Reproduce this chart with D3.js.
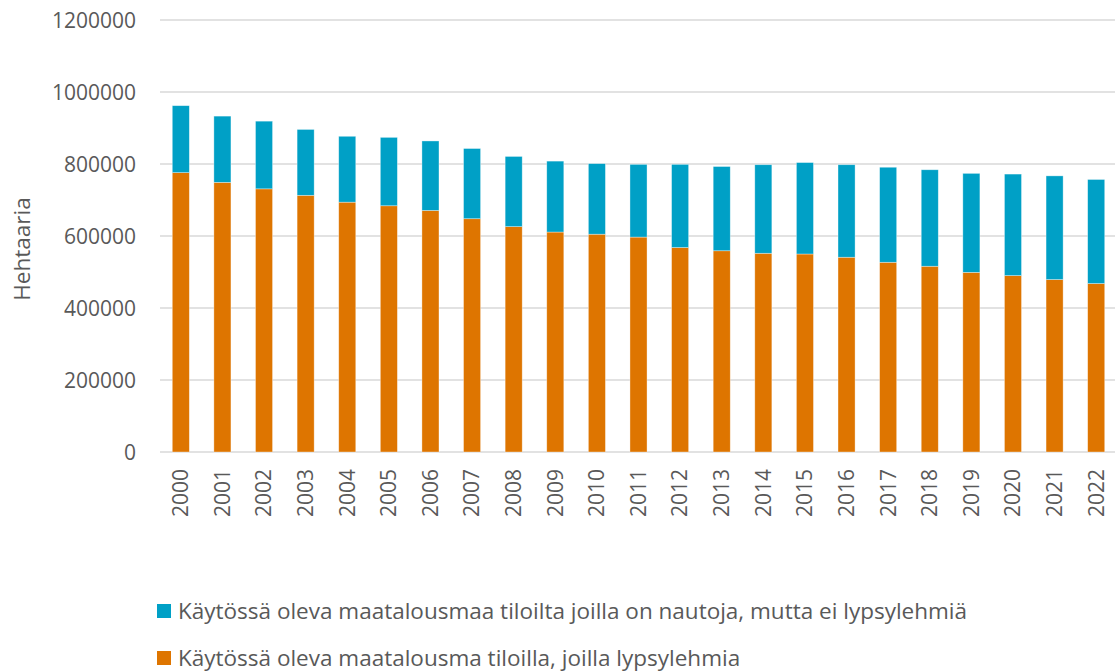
<!DOCTYPE html>
<html>
<head>
<meta charset="utf-8">
<script src="https://cdn.jsdelivr.net/npm/d3@7"></script>
<style>
  html, body { margin: 0; padding: 0; background: #fff; }
  svg text { font-family: "Open Sans", "Noto Sans", sans-serif; fill: #595959; }
</style>
</head>
<body>
<svg id="chart" width="1115" height="672"></svg>
<script>
/* Data
======================================================================= */
var years = ['2000', '2001', '2002', '2003', '2004', '2005', '2006', '2007', '2008', '2009', '2010',
             '2011', '2012', '2013', '2014', '2015', '2016', '2017', '2018', '2019', '2020', '2021', '2022'];

// Farms with dairy cows (bottom, orange)
var dairyArea = [776000, 749000, 731000, 713000, 694000, 684000, 671000, 648000, 626000, 611000, 605000,
                 597000, 568000, 559000, 552000, 550000, 541000, 527000, 516000, 499000, 490000, 479000, 468000];

// Farms with cattle but no dairy cows (top, blue)
var cattleArea = [186000, 184000, 188000, 183000, 183000, 190000, 193000, 195000, 195000, 197000, 196000,
                  202000, 231000, 234000, 246000, 254000, 257000, 264000, 268000, 275000, 282000, 288000, 289000];

var yTicks = [0, 200000, 400000, 600000, 800000, 1000000, 1200000];

var seriesNames = [
  'Käytössä oleva maatalousmaa tiloilta joilla on nautoja, mutta ei lypsylehmiä',
  'Käytössä oleva maatalousma tiloilla, joilla lypsylehmia'
];
var seriesColors = ['#00A0C6', '#DE7500'];

/* Layout
======================================================================= */
var svg = d3.select('#chart'),
    m = { top: 20, left: 160 },
    W = 1115,
    baseY = 452;

var x = d3.scaleBand()
  .domain(years)
  .range([m.left, 1117])
  .paddingInner(0.59)
  .paddingOuter(0.295);

var y = d3.scaleLinear()
  .domain([0, 1200000])
  .range([baseY, m.top]);

// Gridlines
svg.append('g')
  .selectAll('line')
  .data(yTicks)
  .enter().append('line')
    .attr('x1', m.left)
    .attr('x2', W)
    .attr('y1', function(d) { return y(d); })
    .attr('y2', function(d) { return y(d); })
    .attr('stroke', '#d9d9d9')
    .attr('stroke-width', 1.3);

// Y axis labels
var yAxis = svg.append('g')
  .attr('transform', 'translate(136,0)')
  .call(d3.axisLeft(y).tickValues(yTicks).tickSize(0).tickPadding(0).tickFormat(d3.format('d')));
yAxis.select('.domain').remove();
yAxis.selectAll('text')
  .attr('font-size', 21)
  .attr('dy', '0.35em')
  .style('font-family', '"Open Sans", sans-serif')
  .attr('fill', '#595959');

// Stacked bars
var stackData = years.map(function(yr, i) {
  return { year: yr, dairy: dairyArea[i], cattle: cattleArea[i] };
});
var stacked = d3.stack().keys(['dairy', 'cattle'])(stackData);
var colorFor = { dairy: seriesColors[1], cattle: seriesColors[0] };

svg.append('g')
  .selectAll('g')
  .data(stacked)
  .enter().append('g')
    .attr('fill', function(s) { return colorFor[s.key]; })
  .selectAll('rect')
  .data(function(s) { return s; })
  .enter().append('rect')
    .attr('x', function(d) { return x(d.data.year); })
    .attr('width', x.bandwidth())
    .attr('y', function(d) { return y(d[1]); })
    .attr('height', function(d) { return y(d[0]) - y(d[1]); })
    .attr('stroke', '#ffffff')
    .attr('stroke-opacity', 0.5)
    .attr('stroke-width', 0.7);

// X axis labels (rotated years)
var xAxis = svg.append('g')
  .attr('transform', 'translate(0,' + baseY + ')')
  .call(d3.axisBottom(x).tickSize(0).tickPadding(0));
xAxis.select('.domain').remove();
xAxis.selectAll('text')
  .attr('font-size', 21)
  .attr('transform', 'rotate(-90)')
  .attr('text-anchor', 'end')
  .attr('x', -17)
  .attr('y', 0)
  .attr('dy', '0.35em')
  .attr('fill', '#595959');

// Y axis title
svg.append('text')
  .attr('transform', 'translate(30,249) rotate(-90)')
  .attr('text-anchor', 'middle')
  .attr('font-size', 22.5)
  .text('Hehtaaria');

// Legend
var legend = svg.append('g')
  .selectAll('g')
  .data(seriesNames)
  .enter().append('g')
    .attr('transform', function(d, i) { return 'translate(157,' + (611 + i * 47) + ')'; });

legend.append('rect')
  .attr('x', 0)
  .attr('y', -7)
  .attr('width', 14)
  .attr('height', 14)
  .attr('fill', function(d, i) { return seriesColors[i]; });

legend.append('text')
  .attr('x', 21)
  .attr('y', 0)
  .attr('dy', '0.35em')
  .attr('font-size', 22.5)
  .text(function(d) { return d; });
</script>
</body>
</html>
